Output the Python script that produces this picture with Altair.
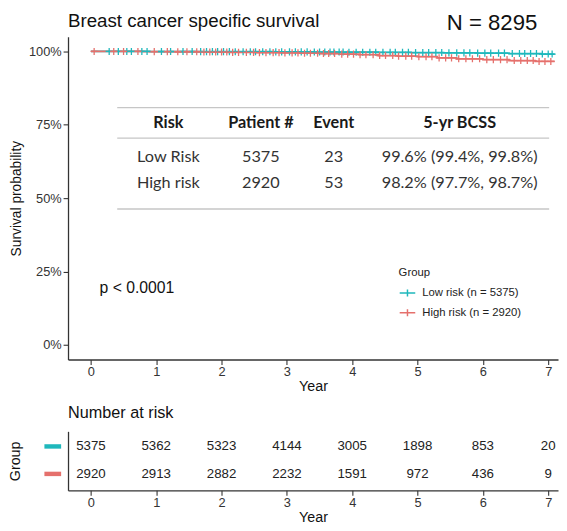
import altair as alt
import pandas as pd

# ---------------- data ----------------
groups = ["Low risk (n = 5375)", "High risk (n = 2920)"]
colors = ["#1FB8BC", "#E5706C"]

# Kaplan-Meier step curves (time in years, survival probability)
low_t = [0, 0.9, 1.6, 2.2, 2.8, 3.4, 3.9, 4.4, 4.9, 5.4, 5.9, 6.4, 6.9, 7.1]
low_s = [1.0, 0.9998, 0.9995, 0.9991, 0.9986, 0.998, 0.9974, 0.9968, 0.9962, 0.9953, 0.9942, 0.9928, 0.9912, 0.9912]
high_t = [0, 0.8, 1.3, 1.7, 2.1, 2.5, 2.9, 3.2, 3.5, 3.8, 4.1, 4.4, 4.7, 5.0, 5.3, 5.6, 6.0, 6.4, 6.8, 7.1]
high_s = [1.0, 0.9995, 0.999, 0.998, 0.997, 0.996, 0.995, 0.994, 0.993, 0.991, 0.989, 0.986, 0.984, 0.982, 0.978, 0.975, 0.972, 0.969, 0.966, 0.966]

# censoring times
low_c = [0.28, 0.42, 0.55, 0.62, 0.78, 0.86, 1.08, 1.22, 1.41, 1.55, 1.68, 1.77, 1.86, 1.94, 2.03, 2.12, 2.21,
         2.33, 2.44, 2.52, 2.63, 2.74, 2.83, 2.92, 3.04, 3.13, 3.22, 3.31, 3.42, 3.5, 3.58, 3.66, 3.72, 3.8,
         3.86, 3.95, 4.06, 4.16, 4.27, 4.36, 4.47, 4.58, 4.66, 4.77, 4.86, 4.97, 5.08, 5.17, 5.28, 5.37, 5.48,
         5.6, 5.71, 5.8, 5.92, 6.03, 6.12, 6.24, 6.33, 6.45, 6.56, 6.64, 6.73, 6.82, 6.91, 7.0, 7.06]
high_c = [0.05, 0.35, 0.5, 0.72, 0.97, 1.17, 1.33, 1.47, 1.62, 1.73, 1.82, 1.91, 2.0, 2.08, 2.17, 2.26, 2.38, 2.49,
          2.58, 2.68, 2.79, 2.88, 2.97, 3.08, 3.17, 3.27, 3.36, 3.47, 3.56, 3.64, 3.73, 3.84, 3.93, 4.02, 4.12,
          4.21, 4.32, 4.42, 4.51, 4.62, 4.71, 4.82, 4.91, 5.02, 5.13, 5.22, 5.33, 5.43, 5.52, 5.63, 5.74, 5.84,
          5.95, 6.06, 6.16, 6.27, 6.37, 6.48, 6.58, 6.68, 6.77, 6.86, 6.95, 7.04]

# number at risk table
years = [0, 1, 2, 3, 4, 5, 6, 7]
risk_low = [5375, 5362, 5323, 4144, 3005, 1898, 853, 20]
risk_high = [2920, 2913, 2882, 2232, 1591, 972, 436, 9]

# summary table
tbl_header = ["Risk", "Patient #", "Event", "5-yr BCSS"]
tbl_rows = [["Low Risk", "5375", "23", "99.6% (99.4%, 99.8%)"],
            ["High risk", "2920", "53", "98.2% (97.7%, 98.7%)"]]

# ---------------- tables ----------------
def step_value(ts, ss, t):
    v = ss[0]
    for ti, si in zip(ts, ss):
        if ti <= t:
            v = si
    return v

curve_df = pd.DataFrame(
    [{"t": t, "s": s, "group": groups[0]} for t, s in zip(low_t, low_s)]
    + [{"t": t, "s": s, "group": groups[1]} for t, s in zip(high_t, high_s)]
)
cens_df = pd.DataFrame(
    [{"t": t, "s": step_value(low_t, low_s, t), "group": groups[0]} for t in low_c]
    + [{"t": t, "s": step_value(high_t, high_s, t), "group": groups[1]} for t in high_c]
)
risk_df = pd.DataFrame(
    [{"year": y, "n": n, "row": 2, "group": groups[0]} for y, n in zip(years, risk_low)]
    + [{"year": y, "n": n, "row": 1, "group": groups[1]} for y, n in zip(years, risk_high)]
)

W = 498
H = 328
FONT = "Liberation Sans"
TFONT = "Lato"
AX = "#333333"

xscale = alt.Scale(domain=[-0.35, 7.15], nice=False, zero=False)
yscale = alt.Scale(domain=[-0.05, 1.05], nice=False, zero=False)
cscale = alt.Scale(domain=groups, range=colors)

legend = alt.Legend(
    title="Group", orient="none", legendX=336, legendY=234,
    symbolType="M-1,0H1M0,-0.45V0.45", symbolSize=250, symbolStrokeWidth=1.5,
    labelFontSize=11.5, titleFontSize=11.5, titleFontWeight="normal",
    labelFont=FONT, titleFont=FONT, labelColor="#222", titleColor="#222",
    rowPadding=4, titlePadding=6, labelOffset=6,
)

def xax():
    return alt.Axis(values=years, format="d", title="Year", labelFontSize=13, titleFontSize=14.5,
                    titleFontWeight="normal", tickSize=5, labelPadding=1, titlePadding=2, grid=False,
                    domainColor=AX, tickColor=AX, labelColor="#333", titleColor="#111",
                    domainWidth=1.3, tickWidth=1.1, labelFont=FONT, titleFont=FONT)

yaxis = alt.Axis(values=[0, 0.25, 0.5, 0.75, 1.0], format=".0%", title="Survival probability",
                 labelFontSize=13, titleFontSize=14, titleFontWeight="normal", tickSize=5, labelPadding=2,
                 titlePadding=5, grid=False, domainColor=AX, tickColor=AX, labelColor="#333",
                 titleColor="#111", domainWidth=1.3, tickWidth=1.1, labelFont=FONT, titleFont=FONT)

lines = alt.Chart(curve_df).mark_line(interpolate="step-after", strokeWidth=1.8).encode(
    x=alt.X("t:Q", scale=xscale, axis=xax()),
    y=alt.Y("s:Q", scale=yscale, axis=yaxis),
    color=alt.Color("group:N", scale=cscale, legend=legend, sort=groups),
)
cens = alt.Chart(cens_df).mark_point(shape="M-1,0H1M0,-1V1", size=52, filled=False,
                                      strokeWidth=1.3, opacity=1).encode(
    x=alt.X("t:Q", scale=xscale),
    y=alt.Y("s:Q", scale=yscale),
    color=alt.Color("group:N", scale=cscale, legend=legend, sort=groups),
)

one = alt.Data(values=[{}])
annots = []
# summary-table rules
for yy in [72, 103, 175]:
    annots.append(alt.Chart(one).mark_rule(color="#c6c6c6", strokeWidth=1.5).encode(
        x=alt.value(50), x2=alt.value(489), y=alt.value(yy)))
col_x = [102, 196, 270, 398]
row_y = [88, 122, 149]
for j, h in enumerate(tbl_header):
    annots.append(alt.Chart(one).mark_text(text=h, font=TFONT, fontSize=16.5, fontWeight="bold",
                                           color="#1a1a1a", align="center", baseline="middle").encode(
        x=alt.value(col_x[j]), y=alt.value(row_y[0])))
for i, row in enumerate(tbl_rows):
    for j, cell in enumerate(row):
        annots.append(alt.Chart(one).mark_text(text=cell, font=TFONT, fontSize=16.5, color="#333",
                                               align="center", baseline="middle").encode(
            x=alt.value(col_x[j]), y=alt.value(row_y[i + 1])))
annots.append(alt.Chart(one).mark_text(text="p < 0.0001", font=FONT, fontSize=16, color="#111",
                                       align="left", baseline="middle").encode(
    x=alt.value(32), y=alt.value(255)))
annots.append(alt.Chart(one).mark_text(text="Breast cancer specific survival", font=FONT, fontSize=19,
                                       color="#111", align="left", baseline="middle").encode(
    x=alt.value(0), y=alt.value(-16)))
annots.append(alt.Chart(one).mark_text(text="N = 8295", font=FONT, fontSize=22.5, color="#111",
                                       align="left", baseline="middle").encode(
    x=alt.value(385), y=alt.value(-14)))

main = alt.layer(lines, cens, *annots).properties(width=W, height=H)

# ---------------- number at risk ----------------
by = alt.Axis(title="Group", labels=False, ticks=False, values=[1, 2], titlePadding=46, titleFontSize=14.5,
              titleFontWeight="normal", grid=False, domainColor=AX, domainWidth=1.3, titleColor="#111",
              titleFont=FONT)
rscale = alt.Scale(domain=[0.4, 2.55], nice=False, zero=False)

risk_text = alt.Chart(risk_df).mark_text(font=FONT, fontSize=13.5, color="#222").encode(
    x=alt.X("year:Q", scale=xscale, axis=xax()),
    y=alt.Y("row:Q", scale=rscale, axis=by),
    text="n:Q",
)
dashes = alt.Chart(risk_df).transform_filter("datum.year == 0").mark_rule(strokeWidth=4.5).encode(
    x=alt.value(-24), x2=alt.value(-7),
    y=alt.Y("row:Q", scale=rscale),
    color=alt.Color("group:N", scale=cscale, legend=None),
)
bottom = alt.layer(risk_text, dashes).properties(
    width=W, height=60,
    title=alt.TitleParams("Number at risk", anchor="start", frame="group", fontSize=16.5,
                          fontWeight="normal", font=FONT, color="#111", offset=10),
)

chart = alt.vconcat(main, bottom, spacing=11).properties(
    padding={"left": 0, "top": 0, "right": 0, "bottom": 0}
).configure_view(stroke=None).configure_concat(spacing=11)

chart.save("out.html", embed_options={"renderer": "svg", "actions": False})
